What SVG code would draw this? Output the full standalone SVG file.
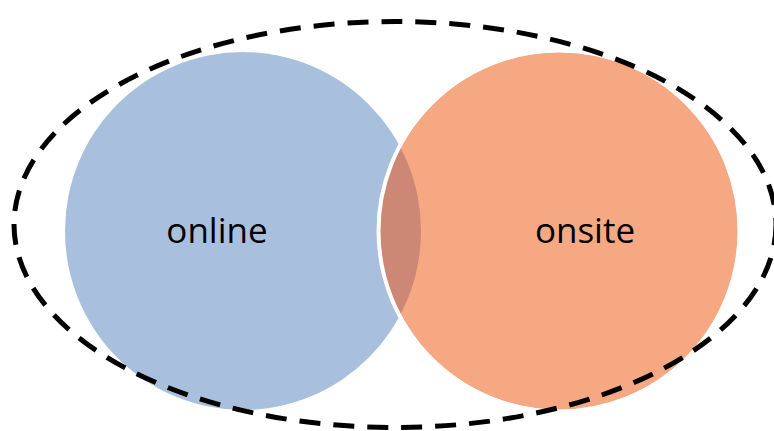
<svg xmlns="http://www.w3.org/2000/svg" width="774" height="431" viewBox="0 0 774 431">
<style>
.lbl{font-family:"Open Sans","Noto Sans",sans-serif;font-size:35px;fill:#000;text-anchor:middle}
</style>
<defs>
<clipPath id="blueClip"><ellipse cx="243" cy="231" rx="178" ry="179"/></clipPath>
</defs>
<rect width="774" height="431" fill="#fff"/>
<g id="online">
<ellipse cx="243" cy="231" rx="178" ry="179" fill="#A8C0DE"/>
</g>
<g id="onsite">
<ellipse cx="559" cy="231" rx="179" ry="179" fill="#F6A883"/>
<ellipse cx="559" cy="231" rx="179" ry="179" fill="#CC8874" clip-path="url(#blueClip)"/>
<ellipse cx="559" cy="231" rx="180.5" ry="180.5" fill="none" stroke="#fff" stroke-width="4"/>
</g>
<g id="boundary">
<ellipse cx="395" cy="224.5" rx="381" ry="203" fill="none" stroke="#000" stroke-width="5" stroke-dasharray="21 13"/>
</g>
<text class="lbl" x="217" y="243">online</text>
<text class="lbl" x="585" y="243">onsite</text>
</svg>
